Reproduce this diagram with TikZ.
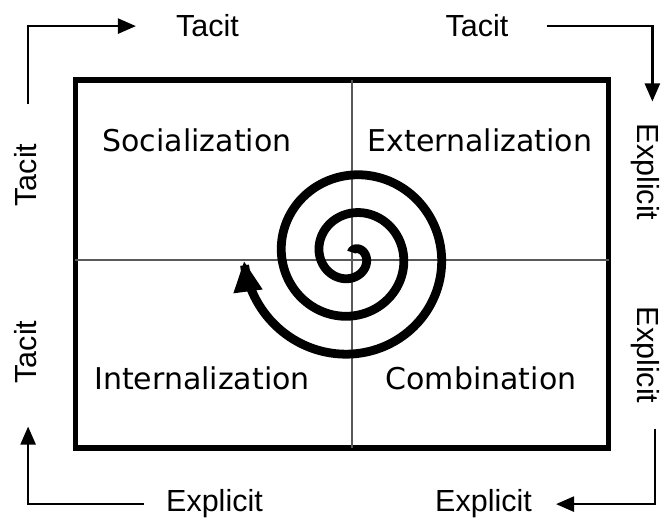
\documentclass[tikz,border=0pt]{standalone}
\usepackage{fontspec}
\setmainfont{Liberation Sans}
\newfontfamily\modefont{DejaVu Sans}
\usetikzlibrary{arrows.meta}

\begin{document}
\begin{tikzpicture}[
      x=1pt, y=-1pt,
      mode/.style={font=\modefont\fontsize{30}{36}\selectfont,anchor=base},
      side/.style={font=\fontsize{30.5}{36}\selectfont,anchor=base,inner sep=0pt},
      frame/.style={draw,line width=5.5pt,minimum width=533pt,minimum height=368pt,inner sep=0pt},
      divider/.style={line width=1.3pt,draw=black!65,shorten <=2.5pt,shorten >=2.5pt},
      flow/.style={-{Triangle[length=18pt,width=15pt]},line width=2.4pt},
      spiral/.style={-{Triangle[length=31pt,width=27pt]},line width=8.8pt}
    ]
      \useasboundingbox (0,0) rectangle (665,518);
      \node[frame] (grid) at (342,264) {};
      \coordinate (hub) at (352,260);
      \draw[divider] (grid.north -| hub) -- (grid.south -| hub);
      \draw[divider] (grid.west |- hub) -- (grid.east |- hub);
      % quadrants
      \node[mode] (soc) at (197,152) {Socialization};
      \node[mode] (ext) at (480,152) {Externalization};
      \node[mode] (int) at (202,390) {Internalization};
      \node[mode] (com) at (481,390) {Combination};
      % outer labels
      \node[side] (tacitT) at (207.5,37) {Tacit};
      \node[side] (tacitR) at (477,37) {Tacit};
      \node[side] (explB) at (214.5,512) {Explicit};
      \node[side] (explB2) at (483.5,512) {Explicit};
      \node[side,rotate=90] (tacitL) at (36,175) {Tacit};
      \node[side,rotate=90] (tacitL2) at (36,352) {Tacit};
      \node[side,rotate=-90] (explR) at (637,172) {Explicit};
      \node[side,rotate=-90] (explR2) at (637,355) {Explicit};
      \draw[flow,shorten <=39pt,shorten >=40pt] ([xshift=3pt]tacitL.east) |- (tacitT.west);
      \draw[flow,shorten <=38pt,shorten >=22pt] (tacitR.east) -| ([xshift=7.5pt]explR.west);
      \draw[flow,shorten <=25pt,shorten >=24pt] ([xshift=10pt]explR2.east) |- (explB2.east);
      \draw[flow,shorten <=22pt,shorten >=43pt] (explB.west) -| ([xshift=3pt]tacitL2.west);
      % spiral
      \draw[spiral] plot[domain=-100:897,samples=400,variable=\t]
        ({352+(23+(\t-90)*0.10556)*cos(\t)},{255+(23+(\t-90)*0.10556)*sin(\t)});
    \end{tikzpicture}
\end{document}
